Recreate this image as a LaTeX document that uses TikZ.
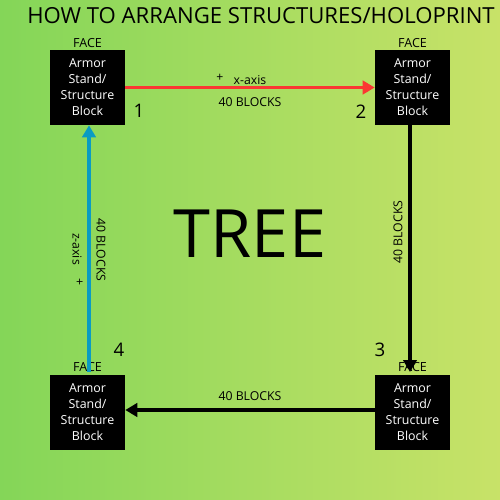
\documentclass[tikz,border=0pt]{standalone}
\usepackage{fontspec}
\setmainfont{Open Sans}
\usetikzlibrary{arrows.meta}
\definecolor{bgleft}{RGB}{132,214,88}
\definecolor{bgright}{RGB}{200,226,104}
\definecolor{redarrow}{RGB}{250,55,50}
\definecolor{bluearrow}{RGB}{10,155,195}
\tikzset{
  blockbox/.style={fill=black,text=white,minimum width=56.25pt,minimum height=56.25pt,inner sep=0pt,align=center,font=\fontsize{9.3pt}{12pt}\selectfont},
  facelbl/.style={font=\fontsize{9.4pt}{10pt}\selectfont,inner sep=0pt},
  numlbl/.style={font=\fontsize{14pt}{16pt}\selectfont,inner sep=0pt},
  arrlbl/.style={font=\fontsize{9.2pt}{10pt}\selectfont,inner sep=0pt},
  conn/.style={line width=2.4pt,-{Triangle[length=9pt,width=10pt]}}
}
\begin{document}
\begin{tikzpicture}[x=0.75pt,y=-0.75pt]
\shade[left color=bgleft,right color=bgright] (0,0) rectangle (500,500);
\useasboundingbox (0,0) rectangle (500,500);
\node[font=\fontsize{16.6pt}{18pt}\selectfont,inner sep=0pt] (title) at (261,16) {HOW TO ARRANGE STRUCTURES/HOLOPRINT};
\node[blockbox] (b1) at (87.5,87.5) {Armor\\Stand/\\Structure\\Block};
\node[blockbox] (b2) at (412.5,87.5) {Armor\\Stand/\\Structure\\Block};
\node[blockbox] (b3) at (412.5,412) {Armor\\Stand/\\Structure\\Block};
\node[blockbox] (b4) at (87.5,412) {Armor\\Stand/\\Structure\\Block};
\node[facelbl] (f1) at (87.5,43) {FACE};
\node[facelbl] (f2) at (412.5,43) {FACE};
\node[facelbl] (f3) at (412.5,367) {FACE};
\node[facelbl] (f4) at (87.5,367) {FACE};
\node[numlbl] (n1) at (139,111) {1};
\node[numlbl] (n2) at (361,112) {2};
\node[numlbl] (n3) at (380,350) {3};
\node[numlbl] (n4) at (119,350) {4};
\node[font=\fontsize{50pt}{56pt}\selectfont,inner sep=0pt] (tree) at (250,234) {TREE};
\coordinate (r3top) at (410,372);
\coordinate (l4top) at (89,372);
\draw[conn,redarrow] (b1.east) -- (b2.west);
\draw[conn,black] (b2.south -| r3top) -- (r3top);
\draw[conn,black] (b3.west |- 0,410) -- (b4.east |- 0,410);
\draw[conn,bluearrow] (l4top) -- (l4top |- b1.south);
\node[arrlbl] (px) at (220,78) {+};
\node[arrlbl] (xax) at (250,80) {x-axis};
\node[arrlbl] (lb1) at (250,102) {40 BLOCKS};
\node[arrlbl] (lb3) at (250,396) {40 BLOCKS};
\node[arrlbl,rotate=90] (lb2) at (398,232) {40 BLOCKS};
\node[arrlbl,rotate=-90] (lb4) at (101,250) {40 BLOCKS};
\node[arrlbl,rotate=-90] (zax) at (77,249) {z-axis};
\node[arrlbl,rotate=-90] (pz) at (79,282) {+};
\end{tikzpicture}
\end{document}
